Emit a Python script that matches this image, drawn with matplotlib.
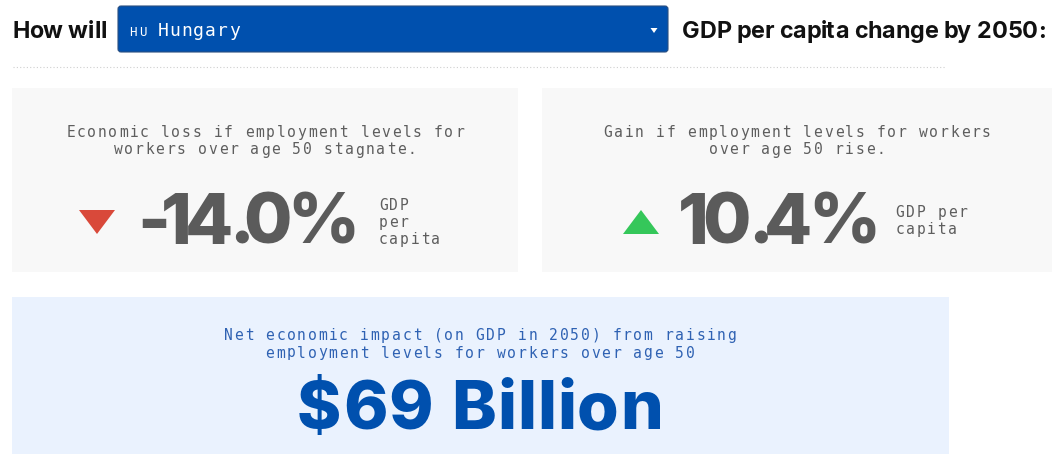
import matplotlib
matplotlib.use("Agg")
import matplotlib.pyplot as plt
from matplotlib.patches import Rectangle, FancyBboxPatch, Polygon
from matplotlib import font_manager, ft2font

# ---- content ----
country_code = "HU"
country = "Hungary"
title_left = "How will"
title_right = "GDP per capita change by 2050:"
loss_caption = ["Economic loss if employment levels for", "workers over age 50 stagnate."]
loss_value = -14.0
loss_unit = ["GDP", "per", "capita"]
gain_caption = ["Gain if employment levels for workers", "over age 50 rise."]
gain_value = 10.4
gain_unit = ["GDP per", "capita"]
net_caption = ["Net economic impact (on GDP in 2050) from raising",
               "employment levels for workers over age 50"]
net_value = 69
net_unit = "Billion"

W, H = 1052, 454
MONO = "DejaVu Sans Mono"
SANS = "Inter"


def mono(ax, x, y, s, size, color, step=10.5, ha="center", weight="normal"):
    # monospace text with wide letter spacing, one glyph per cell
    x0 = x - len(s) * step / 2 if ha == "center" else x
    for i, c in enumerate(s):
        if c != " ":
            ax.text(x0 + (i + 0.5) * step, y, c, fontsize=size, family=MONO,
                    weight=weight, color=color, ha="center", va="baseline")


def tracked(ax, x, y, s, size, color, width, weight=800):
    # heavy text squeezed/stretched so its ink spans `width` px starting at x
    prop = font_manager.FontProperties(family=SANS, weight=weight)
    font = ft2font.FT2Font(font_manager.findfont(prop))
    font.set_size(size, 100)
    glyphs = [font.load_char(ord(c)) for c in s]
    adv = [g.linearHoriAdvance / 65536 for g in glyphs]
    lsb = [g.horiBearingX / 64 for g in glyphs]
    ink_last = glyphs[-1].width / 64
    natural = sum(adv[:-1]) + lsb[-1] + ink_last - lsb[0]
    track = (width - natural) / max(len(s) - 1, 1)
    pen = 0.0
    for i, c in enumerate(s):
        if c != " ":
            ax.text(x + pen + lsb[i] - lsb[0], y, c, fontsize=size, family=SANS,
                    weight=weight, color=color, ha="left", va="baseline")
        pen += adv[i] + track


fig = plt.figure(figsize=(W / 100, H / 100), dpi=100)
ax = fig.add_axes([0, 0, 1, 1])
ax.set_xlim(0, W)
ax.set_ylim(H, 0)
ax.axis("off")

# ---- header ----
tracked(ax, 13, 38, title_left, 16.8, "#111111", 91, weight=700)
ax.add_patch(FancyBboxPatch((118, 6), 550, 46, boxstyle="round,pad=0,rounding_size=3",
                            fc="#0050ae", ec="#2b4f80", lw=0.8))
mono(ax, 128, 35.5, country_code, 9, "white", step=10, ha="left")
mono(ax, 157, 36, country, 13, "white", step=11.9, ha="left")
ax.add_patch(Polygon([(650.5, 28), (657.5, 28), (654, 33)], closed=True, fc="white", ec="none"))
tracked(ax, 682, 38, title_right, 16.8, "#111111", 360, weight=700)
ax.plot([13, 945], [66.5, 66.5], color="#cfcfcf", lw=0.8, ls=(0, (1, 2)))

# ---- loss / gain panels ----
ax.add_patch(Rectangle((12, 88), 506, 184, fc="#f8f8f8", ec="none"))
ax.add_patch(Rectangle((542, 88), 510, 184, fc="#f8f8f8", ec="none"))

cap_col = "#5e5e5e"
for i, line in enumerate(loss_caption):
    mono(ax, 265, 137 + 17.5 * i, line, 10.5, cap_col)
for i, line in enumerate(gain_caption):
    mono(ax, 797, 137 + 17.5 * i, line, 10.5, cap_col)

ax.add_patch(Polygon([(79, 210), (115, 210), (97, 234)], closed=True, fc="#d9493a", ec="none"))
ax.add_patch(Polygon([(623, 234), (659, 234), (641, 210)], closed=True, fc="#35c75a", ec="none"))

tracked(ax, 137, 244, f"{loss_value:.1f}%", 50.5, "#5b5b5b", 211)
tracked(ax, 678, 244, f"{gain_value:.1f}%", 50.5, "#5b5b5b", 191)

for i, line in enumerate(loss_unit):
    mono(ax, 378, 210 + 17 * i, line, 10.5, cap_col, ha="left")
for i, line in enumerate(gain_unit):
    mono(ax, 894.5, 217 + 17 * i, line, 10.5, cap_col, ha="left")

# ---- net impact panel ----
ax.add_patch(Rectangle((12, 297), 937, 157, fc="#eaf2fe", ec="none"))
for i, line in enumerate(net_caption):
    mono(ax, 480, 340 + 17.5 * i, line, 10.5, "#2f62b3")
tracked(ax, 297, 429, f"${net_value} {net_unit}", 48.5, "#0050ae", 359)

fig.savefig("out.png", dpi=100)
